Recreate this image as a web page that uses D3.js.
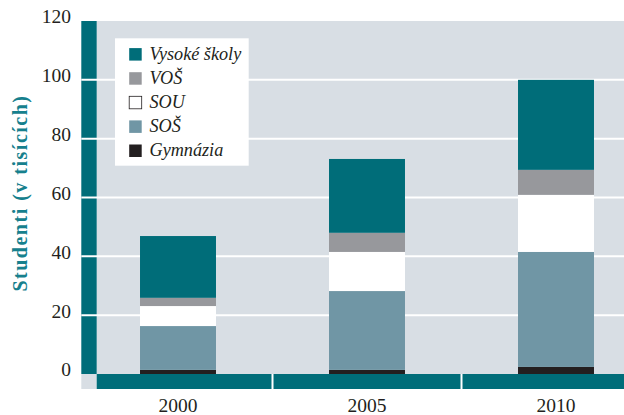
<!DOCTYPE html>
<html><head><meta charset="utf-8">
<script src="https://cdn.jsdelivr.net/npm/d3@7"></script>
<style>body{margin:0;background:#fff}svg{display:block}</style>
</head><body>
<svg id="c" width="624" height="415"></svg>
<script>
const years = ["2000", "2005", "2010"];
const seriesNames = ["Gymnázia", "SOŠ", "SOU", "VOŠ", "Vysoké školy"];
const gymnazia = [1.4, 1.4, 2.4];
const sos = [14.9, 26.8, 39.1];
const sou = [6.8, 13.3, 19.4];
const vos = [2.8, 6.5, 8.5];
const vysoke = [21.0, 25.1, 30.6];
const yTicks = [0, 20, 40, 60, 80, 100, 120];
const colors = ["#231f20", "#7096a5", "#ffffff", "#97989c", "#006d79"];
const legendOrder = ["Vysoké školy", "VOŠ", "SOU", "SOŠ", "Gymnázia"];

const seriesVals = [gymnazia, sos, sou, vos, vysoke];
const rows = years.map((y, i) => {
  const r = {year: y};
  seriesNames.forEach((s, k) => r[s] = seriesVals[k][i]);
  return r;
});
const stack = d3.stack().keys(seriesNames)(rows);
const color = d3.scaleOrdinal().domain(seriesNames).range(colors);

const svg = d3.select("#c");
const font = "'Liberation Serif', 'DejaVu Serif', serif";
const plotL = 96.7, plotR = 624, axL = 81.3;
const y = d3.scaleLinear().domain([0, 120]).range([374, 21]);
const x = d3.scaleBand().domain(years).range([83.5, 650.5]).paddingInner(0.598).paddingOuter(0.299);
const xb = d3.scaleBand().domain(years).range([83.5, 650.5]);

// plot background
svg.append("rect").attr("x", plotL).attr("y", y(120)).attr("width", plotR - plotL).attr("height", y(0) - y(120)).attr("fill", "#d8dee4");
// corner
svg.append("rect").attr("x", axL).attr("y", y(0)).attr("width", plotL - axL).attr("height", 15).attr("fill", "#d8dee4");
// left teal bar
svg.append("rect").attr("x", axL).attr("y", y(120)).attr("width", plotL - axL).attr("height", y(0) - y(120)).attr("fill", "#006d79");
// bottom teal segments
svg.selectAll(".xseg").data(years).enter().append("rect")
  .attr("x", d => Math.max(plotL, xb(d)) + (xb(d) > plotL ? 1 : 0))
  .attr("y", y(0)).attr("height", 15)
  .attr("width", d => xb(d) + xb.bandwidth() - Math.max(plotL, xb(d)) - (xb(d) > plotL ? 1 : 0) - 1)
  .attr("fill", "#006d79");

// gridlines
svg.selectAll(".grid").data(yTicks.filter(t => t > 0 && t < 120)).enter().append("line")
  .attr("x1", axL).attr("x2", plotR).attr("y1", d => y(d)).attr("y2", d => y(d))
  .attr("stroke", "#ffffff").attr("stroke-width", 2);

// bars
svg.selectAll(".ser").data(stack).enter().append("g")
  .attr("fill", d => color(d.key))
  .selectAll("rect").data(d => d).enter().append("rect")
  .attr("x", d => x(d.data.year)).attr("width", x.bandwidth())
  .attr("y", d => y(d[1])).attr("height", d => y(d[0]) - y(d[1]));

// y axis labels
const yAxis = d3.axisLeft(y).tickValues(yTicks).tickSize(0).tickPadding(0);
const ga = svg.append("g").attr("transform", "translate(71,0)").call(yAxis);
ga.select(".domain").remove();
ga.selectAll("text").attr("font-family", font).attr("font-size", 19.5).attr("fill", "#231f20").attr("dy", "0.1em");

// x axis labels
const xAxis = d3.axisBottom(x).tickSize(0).tickPadding(0);
const gx = svg.append("g").attr("transform", "translate(0,398)").call(xAxis);
gx.select(".domain").remove();
gx.selectAll("text").attr("font-family", font).attr("font-size", 19.5).attr("fill", "#231f20").attr("dy", "0.7em");

// y title
svg.append("text").attr("transform", "translate(27,193) rotate(-90)")
  .attr("text-anchor", "middle").attr("font-family", font).attr("font-size", 20).attr("font-weight", "bold")
  .attr("letter-spacing", 1.5)
  .attr("fill", "#16808d").text("Studenti (v tisících)");

// legend
const lg = svg.append("g");
lg.append("rect").attr("x", 115).attr("y", 38.3).attr("width", 133.7).attr("height", 127.4).attr("fill", "#ffffff");
legendOrder.forEach((s, i) => {
  const cy = 54.3 + i * 24.1;
  lg.append("rect").attr("x", 129.2).attr("y", cy - 6.2).attr("width", 12.5).attr("height", 12.5)
    .attr("fill", color(s)).attr("stroke", s === "SOU" ? "#231f20" : "none").attr("stroke-width", 0.8);
  lg.append("text").attr("x", 149.5).attr("y", cy + 5.5).attr("font-family", font).attr("font-style", "italic")
    .attr("font-size", 18.2).attr("fill", "#231f20").text(s);
});
</script>
</body></html>
